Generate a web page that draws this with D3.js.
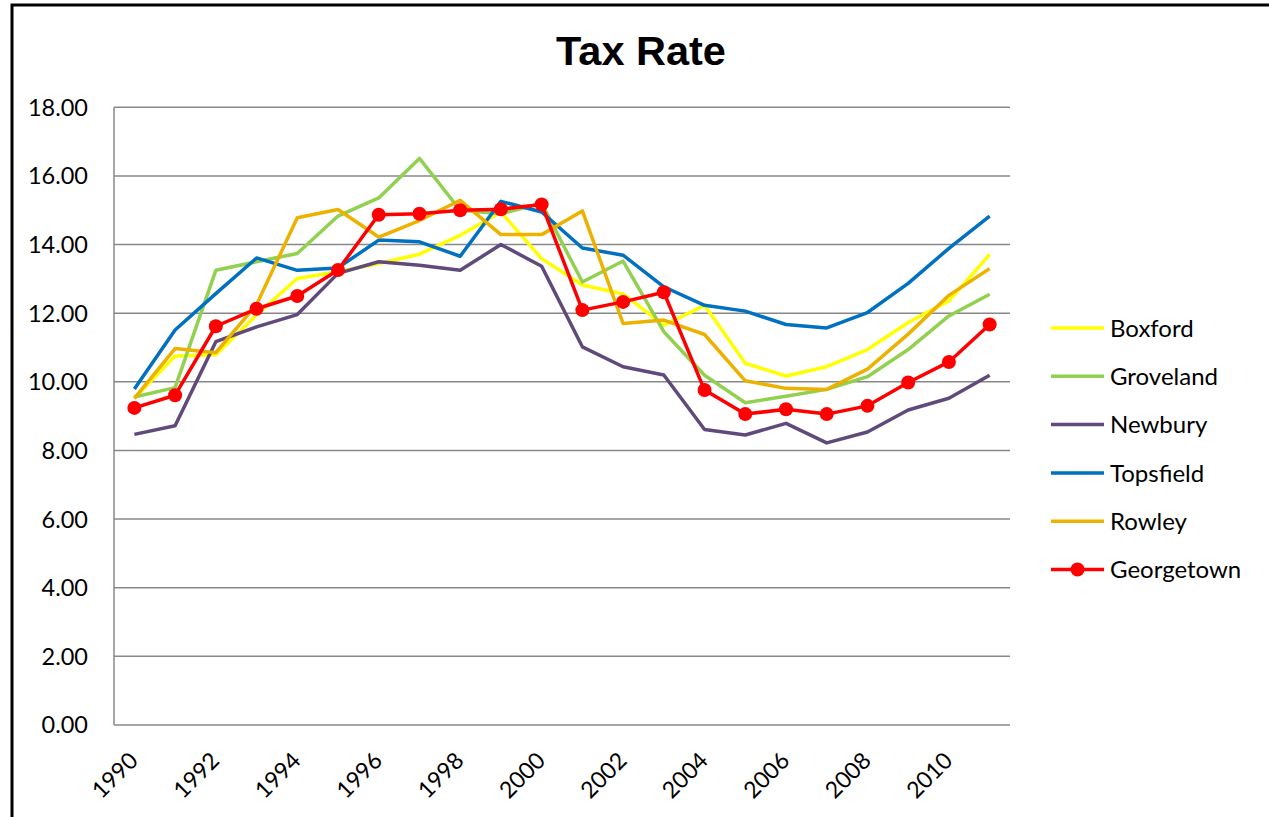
<!DOCTYPE html>
<html>
<head>
<meta charset="utf-8">
<script src="https://cdn.jsdelivr.net/npm/d3@7"></script>
<style>
  body { margin: 0; background: #fff; }
  text { font-family: Lato, "Open Sans", sans-serif; fill: #000; }
</style>
</head>
<body>
<svg></svg>
<script>
const years = d3.range(1990, 2012).map(String);
const tickYears = ['1990','1992','1994','1996','1998','2000','2002','2004','2006','2008','2010'];
const yTicks = [0, 2, 4, 6, 8, 10, 12, 14, 16, 18];

const boxford =    [9.52,10.75,10.79,11.95,13.01,13.21,13.45,13.72,14.27,14.95,13.59,12.82,12.56,11.65,12.23,10.54,10.17,10.44,10.94,11.73,12.36,13.71];
const groveland =  [9.56,9.83,13.25,13.50,13.74,14.83,15.36,16.51,15.00,14.90,15.20,12.91,13.52,11.46,10.19,9.39,9.58,9.78,10.15,10.94,11.92,12.55];
const newbury =    [8.47,8.72,11.17,11.60,11.96,13.16,13.50,13.40,13.25,14.00,13.37,11.02,10.44,10.20,8.61,8.45,8.79,8.22,8.54,9.18,9.52,10.19];
const topsfield =  [9.79,11.51,12.57,13.61,13.25,13.32,14.13,14.08,13.66,15.26,14.95,13.90,13.69,12.77,12.23,12.06,11.67,11.57,12.02,12.87,13.89,14.83];
const rowley =     [9.52,10.97,10.85,12.25,14.78,15.02,14.22,14.70,15.29,14.29,14.29,14.98,11.70,11.80,11.38,10.03,9.81,9.78,10.37,11.39,12.52,13.30];
const georgetown = [9.24,9.61,11.62,12.13,12.50,13.26,14.87,14.90,15.00,15.03,15.17,12.09,12.33,12.61,9.76,9.06,9.20,9.06,9.30,9.98,10.58,11.67];

const seriesNames = ['Boxford','Groveland','Newbury','Topsfield','Rowley','Georgetown'];
const seriesValues = [boxford, groveland, newbury, topsfield, rowley, georgetown];
const seriesColors = ['#FFFF00','#92D050','#604A7B','#0070C0','#EDB100','#FF0000'];

const width = 1269, height = 817;
const svg = d3.select('svg').attr('width', width).attr('height', height);

// outer chart frame (runs off the right and bottom edges)
svg.append('path')
  .attr('d', 'M12,830 L12,5 L1290,5')
  .attr('fill', 'none').attr('stroke', '#000').attr('stroke-width', 3);

const x = d3.scalePoint().domain(years).range([114, 1010]).padding(0.5);
const y = d3.scaleLinear().domain([0, 18]).range([725, 107.3]);

// gridlines
svg.append('g').selectAll('line')
  .data(yTicks)
  .enter().append('line')
  .attr('x1', 114).attr('x2', 1010)
  .attr('y1', d => y(d)).attr('y2', d => y(d))
  .attr('stroke', '#888').attr('stroke-width', 1.5);

// left axis line
svg.append('line')
  .attr('x1', 114).attr('x2', 114)
  .attr('y1', y(18)).attr('y2', y(0))
  .attr('stroke', '#888').attr('stroke-width', 1.5);

// y labels
svg.append('g').selectAll('text')
  .data(yTicks)
  .enter().append('text')
  .attr('x', 88).attr('y', d => y(d))
  .attr('dy', '0.36em')
  .attr('text-anchor', 'end')
  .style('font-size', '23.5px')
  .text(d => d.toFixed(2));

// x labels
svg.append('g').selectAll('text')
  .data(tickYears)
  .enter().append('text')
  .attr('text-anchor', 'end')
  .attr('transform', d => `translate(${x(d) + 5},${762}) rotate(-45)`)
  .style('font-size', '23px')
  .text(d => d);

// title
svg.append('text')
  .attr('x', 641).attr('y', 65)
  .attr('text-anchor', 'middle')
  .style('font-family', '"Liberation Sans", Arial, sans-serif')
  .style('font-size', '41.5px').style('font-weight', 'bold')
  .text('Tax Rate');

// lines
const line = d3.line().x((d, i) => x(years[i])).y(d => y(d));
seriesValues.forEach((vals, k) => {
  svg.append('path')
    .datum(vals)
    .attr('d', line)
    .attr('fill', 'none')
    .attr('stroke', seriesColors[k])
    .attr('stroke-width', 3.5)
    .attr('stroke-linejoin', 'round');
});

// Georgetown markers
svg.append('g').selectAll('circle')
  .data(georgetown)
  .enter().append('circle')
  .attr('cx', (d, i) => x(years[i]))
  .attr('cy', d => y(d))
  .attr('r', 7)
  .attr('fill', '#FF0000');

// legend
const legend = svg.append('g').selectAll('g')
  .data(seriesNames)
  .enter().append('g')
  .attr('transform', (d, i) => `translate(1051,${328 + i * 48.3})`);

legend.append('line')
  .attr('x1', 0).attr('x2', 53)
  .attr('stroke', (d, i) => seriesColors[i])
  .attr('stroke-width', 3.5);

legend.filter(d => d === 'Georgetown').append('circle')
  .attr('cx', 26.5).attr('r', 7).attr('fill', '#FF0000');

legend.append('text')
  .attr('x', 59).attr('dy', '0.36em')
  .style('font-size', '24px')
  .text(d => d);
</script>
</body>
</html>
